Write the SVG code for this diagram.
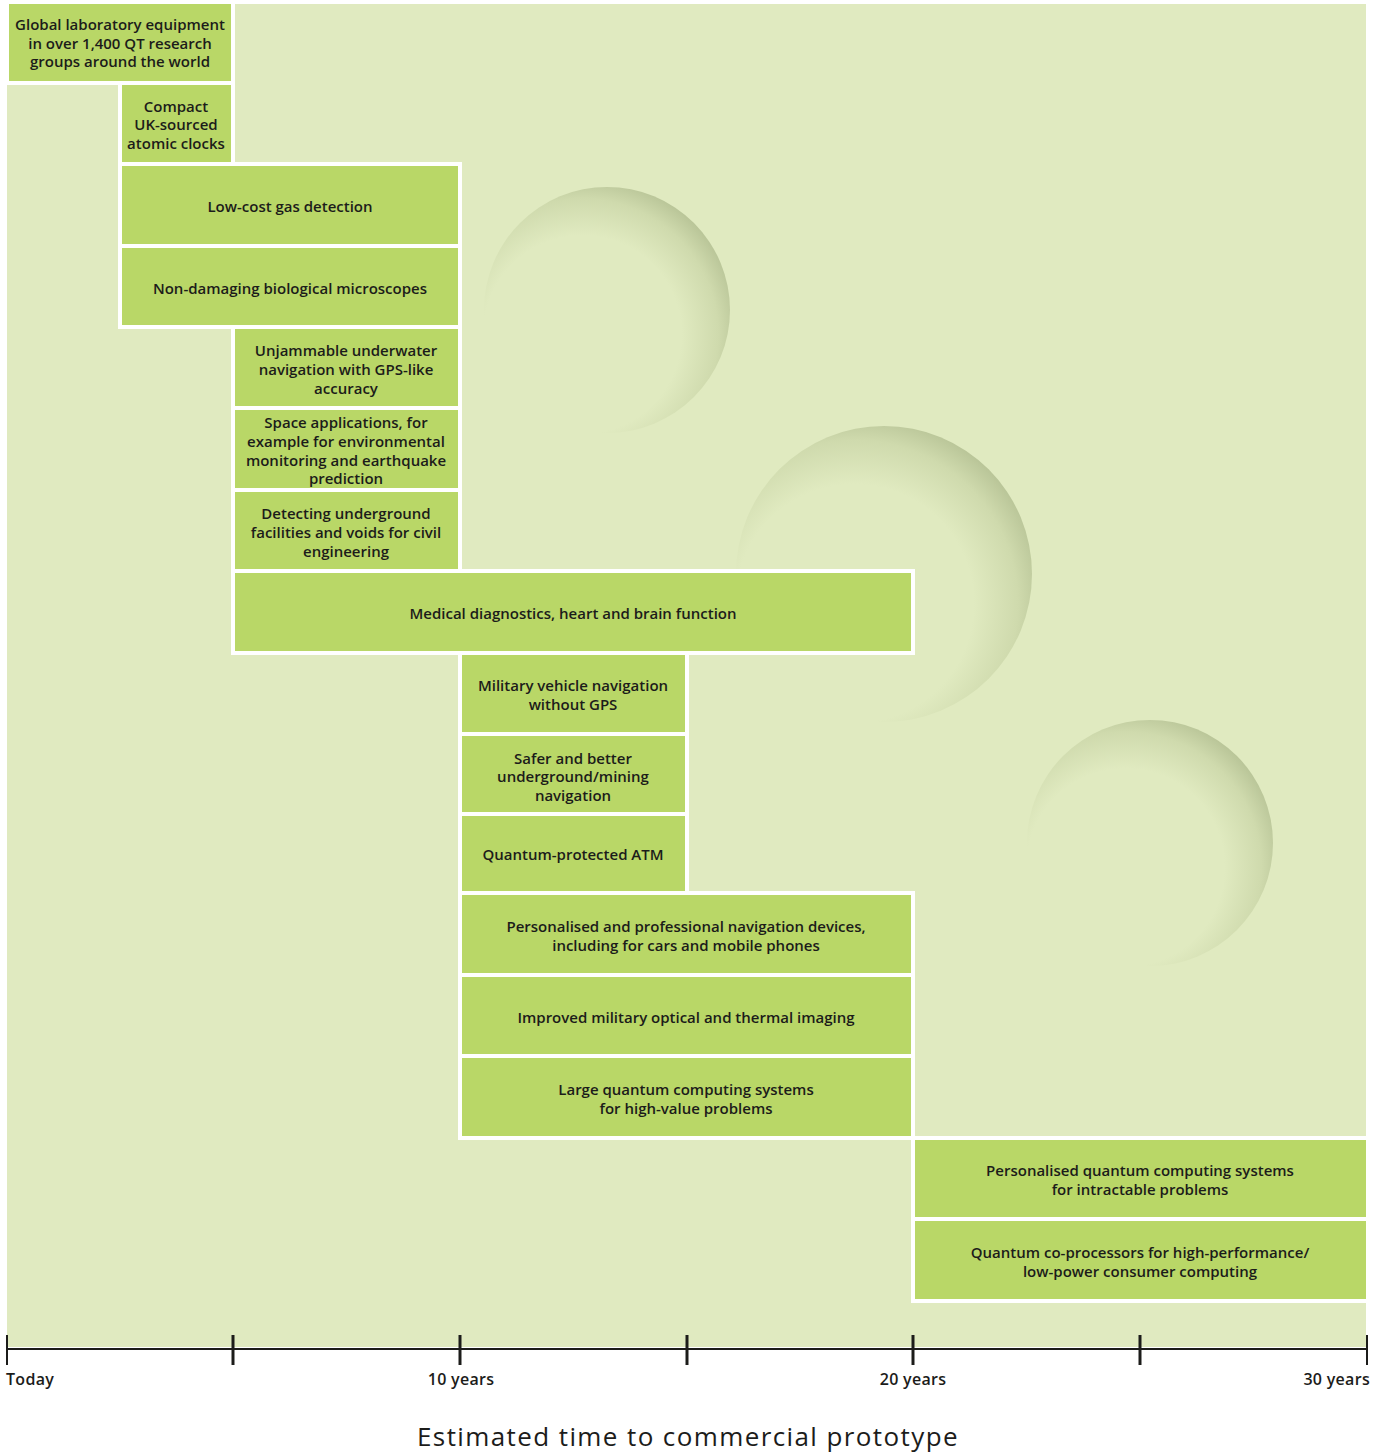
<svg xmlns="http://www.w3.org/2000/svg" width="1384" height="1453" viewBox="0 0 1384 1453">
<style>
.bx{fill:#b9d767;stroke:#ffffff;stroke-width:4}
.t{font-family:"Open Sans","Liberation Sans",sans-serif;font-weight:600;font-size:15px;fill:#1c1c1a;text-anchor:middle;dominant-baseline:central}
.ax{font-family:"Open Sans","Liberation Sans",sans-serif;font-weight:600;font-size:16px;letter-spacing:0.3px;fill:#1c1c1a}
.tk{stroke:#1c1c1a;stroke-width:3}
</style>
<defs>
<radialGradient id="dimple" cx="0.4" cy="0.6" r="0.65" fx="0.4" fy="0.6">
<stop offset="0" stop-color="#e0eac0"/>
<stop offset="0.62" stop-color="#e0eac0"/>
<stop offset="0.85" stop-color="#cfdaad"/>
<stop offset="1" stop-color="#b7c396"/>
</radialGradient>
</defs>
<rect x="0" y="0" width="1384" height="1453" fill="#ffffff"/>
<rect x="7" y="4" width="1359" height="1343" fill="#e0eac0"/>
<g id="decor">
<circle cx="607" cy="310" r="123" fill="url(#dimple)"/>
<circle cx="884" cy="574" r="148" fill="url(#dimple)"/>
<circle cx="1150" cy="843" r="123" fill="url(#dimple)"/>
</g>
<g id="n1"><rect class="bx" x="7" y="2" width="226" height="81"/>
<text class="t" x="120" y="24">Global laboratory equipment</text><text class="t" x="120" y="43">in over 1,400 QT research</text><text class="t" x="120" y="61">groups around the world</text></g>
<g id="n2"><rect class="bx" x="120" y="83" width="113" height="81"/>
<text class="t" x="176" y="106">Compact</text><text class="t" x="176" y="124">UK-sourced</text><text class="t" x="176" y="143">atomic clocks</text></g>
<g id="n3"><rect class="bx" x="120" y="164" width="340" height="82"/>
<text class="t" x="290" y="206">Low-cost gas detection</text></g>
<g id="n4"><rect class="bx" x="120" y="246" width="340" height="81"/>
<text class="t" x="290" y="288">Non-damaging biological microscopes</text></g>
<g id="n5"><rect class="bx" x="233" y="327" width="227" height="81"/>
<text class="t" x="346" y="350">Unjammable underwater</text><text class="t" x="346" y="369">navigation with GPS-like</text><text class="t" x="346" y="388">accuracy</text></g>
<g id="n6"><rect class="bx" x="233" y="408" width="227" height="82"/>
<text class="t" x="346" y="422">Space applications, for</text><text class="t" x="346" y="441">example for environmental</text><text class="t" x="346" y="460">monitoring and earthquake</text><text class="t" x="346" y="478">prediction</text></g>
<g id="n7"><rect class="bx" x="233" y="490" width="227" height="81"/>
<text class="t" x="346" y="513">Detecting underground</text><text class="t" x="346" y="532">facilities and voids for civil</text><text class="t" x="346" y="551">engineering</text></g>
<g id="n8"><rect class="bx" x="233" y="571" width="680" height="82"/>
<text class="t" x="573" y="613">Medical diagnostics, heart and brain function</text></g>
<g id="n9"><rect class="bx" x="460" y="653" width="227" height="81"/>
<text class="t" x="573" y="685">Military vehicle navigation</text><text class="t" x="573" y="704">without GPS</text></g>
<g id="n10"><rect class="bx" x="460" y="734" width="227" height="80"/>
<text class="t" x="573" y="758">Safer and better</text><text class="t" x="573" y="776">underground/mining</text><text class="t" x="573" y="795">navigation</text></g>
<g id="n11"><rect class="bx" x="460" y="814" width="227" height="79"/>
<text class="t" x="573" y="854">Quantum-protected ATM</text></g>
<g id="n12"><rect class="bx" x="460" y="893" width="453" height="82"/>
<text class="t" x="686" y="926">Personalised and professional navigation devices,</text><text class="t" x="686" y="945">including for cars and mobile phones</text></g>
<g id="n13"><rect class="bx" x="460" y="975" width="453" height="81"/>
<text class="t" x="686" y="1017">Improved military optical and thermal imaging</text></g>
<g id="n14"><rect class="bx" x="460" y="1056" width="453" height="82"/>
<text class="t" x="686" y="1089">Large quantum computing systems</text><text class="t" x="686" y="1108">for high-value problems</text></g>
<g id="n15"><rect class="bx" x="913" y="1138" width="455" height="81"/>
<text class="t" x="1140" y="1170">Personalised quantum computing systems</text><text class="t" x="1140" y="1189">for intractable problems</text></g>
<g id="n16"><rect class="bx" x="913" y="1219" width="455" height="82"/>
<text class="t" x="1140" y="1252">Quantum co-processors for high-performance/</text><text class="t" x="1140" y="1271">low-power consumer computing</text></g>
<g id="connectors">
<line x1="7" y1="1349" x2="1367" y2="1349" stroke="#1c1c1a" stroke-width="2"/>
<line x1="7" y1="1335" x2="7" y2="1365" stroke="#1c1c1a" stroke-width="2"/>
<line x1="1367" y1="1335" x2="1367" y2="1365" stroke="#1c1c1a" stroke-width="2"/>
<line class="tk" x1="233" y1="1335" x2="233" y2="1365"/>
<line class="tk" x1="460" y1="1335" x2="460" y2="1365"/>
<line class="tk" x1="687" y1="1335" x2="687" y2="1365"/>
<line class="tk" x1="913" y1="1335" x2="913" y2="1365"/>
<line class="tk" x1="1140" y1="1335" x2="1140" y2="1365"/>
</g>
<g id="axis-labels">
<text class="ax" x="6" y="1385">Today</text>
<text class="ax" x="461" y="1385" text-anchor="middle">10 years</text>
<text class="ax" x="913" y="1385" text-anchor="middle">20 years</text>
<text class="ax" x="1370" y="1385" text-anchor="end">30 years</text>
<text x="688" y="1446" text-anchor="middle" style="font-family:'Open Sans','Liberation Sans',sans-serif;font-weight:500;font-size:26px;letter-spacing:1.4px;fill:#1c1c1a">Estimated time to commercial prototype</text>
</g>
</svg>
